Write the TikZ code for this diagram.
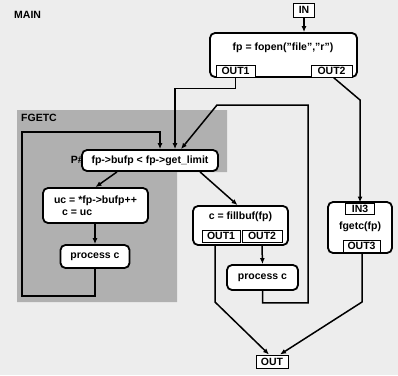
\documentclass[tikz,border=0pt]{standalone}
\usepackage{fontspec}
\setmainfont{Liberation Sans}
\usetikzlibrary{arrows.meta}
\begin{document}
\begin{tikzpicture}[x=1pt,y=-1pt,
  every node/.style={font=\bfseries\fontsize{10.5}{12}\selectfont},
  blk/.style={draw, line width=1.8pt, rounded corners=5pt, fill=white, inner sep=0pt},
  port/.style={draw, line width=1pt, fill=white, inner sep=0pt},
  lbl/.style={inner sep=0pt},
  conn/.style={line width=1.5pt, -{Latex[length=6pt,width=5pt]}}]
\useasboundingbox (0,0) rectangle (398,375);
\fill[gray!14] (0,0) rectangle (398,375);
% FGETC region
\fill[gray!62] (17,110) -- (227,110) -- (227,172) -- (177,172) -- (177,302) -- (17,302) -- cycle;
\node[lbl, anchor=west] (mainlbl) at (14,15) {MAIN};
\node[lbl, anchor=west] (fgetclbl) at (21,118) {FGETC};
\node[lbl, anchor=east] (plbl) at (84,160) {P\#};

% top block
\node[port, minimum width=21pt, minimum height=14pt] (in) at (304,10) {IN};
\node[blk, minimum width=147pt, minimum height=44pt] (fopen) at (283.5,55) {};
\node[lbl] (fopentxt) at (283,48) {fp = fopen("file","r")};
\node[port, minimum width=39pt, minimum height=12pt] (o1a) at (235.5,71) {OUT1};
\node[port, minimum width=41pt, minimum height=12pt] (o2a) at (331.5,71) {OUT2};

% fgetc loop
\node[blk, minimum width=136pt, minimum height=21pt] (pbox) at (150,160.5) {fp->bufp < fp->get\_limit};
\node[blk, minimum width=105pt, minimum height=35pt, align=left] (uc) at (95.5,205.5) {uc = *fp->bufp++\\\hspace*{8pt}c = uc};
\node[blk, minimum width=69pt, minimum height=23pt] (procL) at (95,256.5) {process c};

% fillbuf
\node[blk, minimum width=95pt, minimum height=39pt] (fill) at (240.5,225.5) {};
\node[lbl] (filltxt) at (240.5,217) {c = fillbuf(fp)};
\node[port, minimum width=38pt, minimum height=12pt] (o1b) at (221,236) {OUT1};
\node[port, minimum width=40pt, minimum height=12pt] (o2b) at (262,236) {OUT2};
\node[blk, minimum width=71pt, minimum height=25pt] (procR) at (262.5,277.5) {process c};

% fgetc
\node[blk, minimum width=64pt, minimum height=51pt] (fg) at (360,227.5) {};
\node[port, minimum width=29pt, minimum height=11pt] (in3) at (360,208.5) {IN3};
\node[lbl] (fgtxt) at (360,227) {fgetc(fp)};
\node[port, minimum width=37pt, minimum height=12pt] (o3) at (361.5,246) {OUT3};

\node[port, minimum width=32pt, minimum height=13pt] (out) at (272,361.5) {OUT};

% connectors
\draw[conn] (in.south) -- (fopen.north -| in.south);
\draw[conn] (o1a.south) -- ++(0,11) -| ([xshift=25pt]pbox.north);
\draw[conn] (procR.south) -- ++(0,12) -| (308,105) -- (217,105) -- ([xshift=31pt]pbox.north);
\draw[conn] (procL.south) -- (procL.south |- 0,296) -| (22,132) -- (160,132) -- ([xshift=10pt]pbox.north);
\draw[conn] ([xshift=-33pt]pbox.south) -- (uc.north);
\draw[conn] (uc.south -| procL.north) -- (procL.north);
\draw[conn] ([xshift=50pt]pbox.south) -- ([xshift=-3pt]fill.north);
\draw[conn] (fill.south -| o2b.south) -- (procR.north);
\coordinate (b1) at (215,302);
\coordinate (b3) at (362,302);
\draw[conn] (fill.south -| b1) -- (b1) -- ([xshift=-3pt]out.north);
\draw[conn] (fg.south -| b3) -- (b3) -- ([xshift=8pt]out.north);
\draw[conn] ([xshift=2pt]o2a.south) -- (360,100) -- (in3.north);
\end{tikzpicture}
\end{document}
